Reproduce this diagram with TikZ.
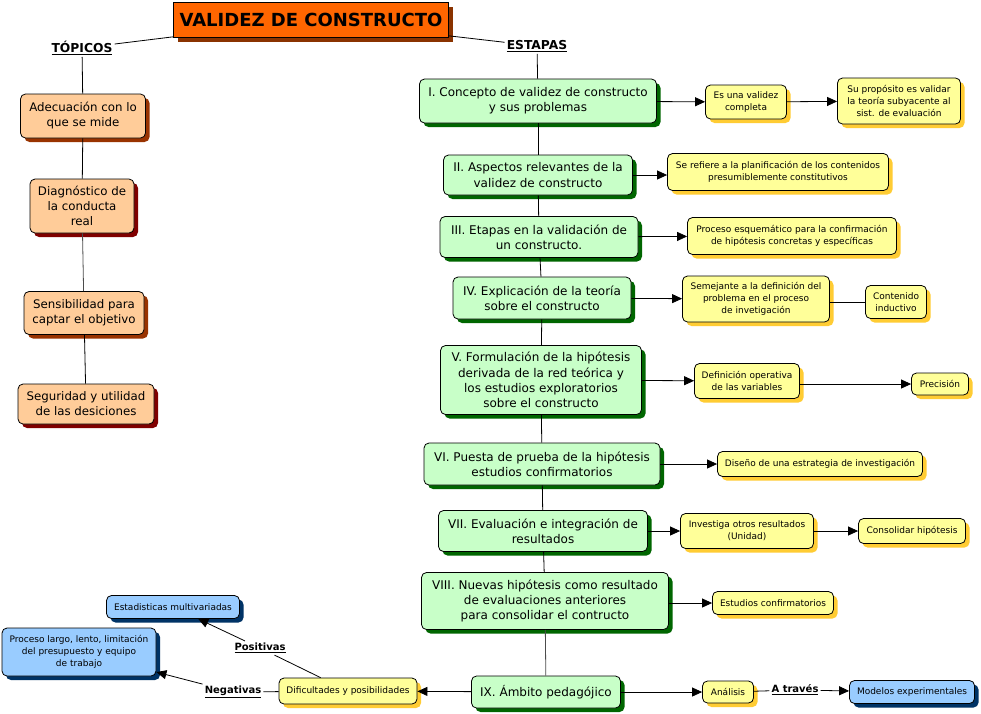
\documentclass[tikz,border=0pt]{standalone}
\usepackage{fontspec}
\setmainfont{DejaVu Sans}
\usetikzlibrary{arrows.meta,shadows}
\definecolor{titlefill}{HTML}{FF6600}
\definecolor{titleshadow}{HTML}{8A3300}
\definecolor{peach}{HTML}{FFCC99}
\definecolor{brownsh}{HTML}{993300}
\definecolor{maroonsh}{HTML}{800000}
\definecolor{greenfill}{HTML}{C8FFC8}
\definecolor{greensh}{HTML}{006600}
\definecolor{yellowfill}{HTML}{FFFF99}
\definecolor{yellowsh}{HTML}{FFCC33}
\definecolor{bluefill}{HTML}{99CCFF}
\definecolor{bluesh}{HTML}{003366}
\tikzset{
  shadowed/.style={drop shadow={shadow xshift=4pt,shadow yshift=-4pt,opacity=1,fill=#1}},
  box/.style={draw, line width=0.8pt, rounded corners=5pt, align=center, inner sep=1pt},
  titlebox/.style={draw, line width=0.8pt, fill=titlefill, shadowed=titleshadow,
    font=\fontsize{18}{21}\selectfont\bfseries, inner sep=1pt},
  topic/.style={box, fill=peach, shadowed=#1, font=\fontsize{11.8}{15}\selectfont},
  stage/.style={box, fill=greenfill, shadowed=greensh, font=\fontsize{12}{15.2}\selectfont},
  note/.style={box, fill=yellowfill, shadowed=yellowsh, font=\fontsize{9}{11.8}\selectfont},
  bluenote/.style={box, fill=bluefill, shadowed=bluesh, font=\fontsize{9}{11.8}\selectfont},
  lbl/.style={font=\fontsize{#1}{13}\selectfont\bfseries, inner sep=2pt},
  conn/.style={line width=0.8pt},
  arr/.style={line width=0.8pt, -{Triangle[length=10pt,width=9pt]}},
}
\begin{document}
\begin{tikzpicture}[x=1pt,y=-1pt]
\useasboundingbox[fill=white] (0,0) rectangle (981,713);

% title and headings
\node[titlebox, minimum width=275pt, minimum height=35pt] (title) at (311,20) {VALIDEZ DE CONSTRUCTO};
\node[lbl=12.3] (topicos) at (82,48) {\underline{TÓPICOS}};
\node[lbl=12.3] (etapas) at (537,46) {\underline{ESTAPAS}};

% left column
\node[topic=brownsh, minimum width=125pt, minimum height=44pt] (t1) at (83,116) {Adecuación con lo\\que se mide};
\node[topic=maroonsh, minimum width=104pt, minimum height=54pt] (t2) at (82,206) {Diagnóstico de\\la conducta\\real};
\node[topic=brownsh, minimum width=120pt, minimum height=43pt] (t3) at (84,313) {Sensibilidad para\\captar el objetivo};
\node[topic=maroonsh, minimum width=136pt, minimum height=40pt] (t4) at (86,404) {Seguridad y utilidad\\de las desiciones};

% stages
\node[stage, minimum width=237pt, minimum height=44pt] (s1) at (538,101) {I. Concepto de validez de constructo\\y sus problemas};
\node[stage, minimum width=189pt, minimum height=40pt] (s2) at (538,175) {II. Aspectos relevantes de la\\validez de constructo};
\node[stage, minimum width=198pt, minimum height=41pt] (s3) at (539,237) {III. Etapas en la validación de\\un constructo.};
\node[stage, minimum width=178pt, minimum height=42pt] (s4) at (542,298) {IV. Explicación de la teoría\\sobre el constructo};
\node[stage, minimum width=201pt, minimum height=69pt] (s5) at (541,380) {V. Formulación de la hipótesis\\derivada de la red teórica y\\los estudios exploratorios\\sobre el constructo};
\node[stage, minimum width=236pt, minimum height=42pt] (s6) at (542,464) {VI. Puesta de prueba de la hipótesis\\estudios confirmatorios};
\node[stage, minimum width=209pt, minimum height=41pt] (s7) at (543,531) {VII. Evaluación e integración de\\resultados};
\node[stage, minimum width=247pt, minimum height=57pt] (s8) at (545,601) {VIII. Nuevas hipótesis como resultado\\de evaluaciones anteriores\\para consolidar el contructo};
\node[stage, minimum width=149pt, minimum height=32pt] (s9) at (546,692) {IX. Ámbito pedagójico};

% notes
\node[note, minimum width=81pt, minimum height=34pt] (n1) at (746,102) {Es una validez\\completa};
\node[note, minimum width=123pt, minimum height=46pt] (n1b) at (899,101) {Su propósito es validar\\la teoría subyacente al\\sist. de evaluación};
\node[note, minimum width=221pt, minimum height=37pt] (n2) at (778,172) {Se refiere a la planificación de los contenidos\\presumiblemente constitutivos};
\node[note, minimum width=209pt, minimum height=37pt] (n3) at (792,236) {Proceso esquemático para la confirmación\\de hipótesis concretas y específicas};
\node[note, minimum width=147pt, minimum height=46pt] (n4) at (756,299) {Semejante a la definición del\\problema en el proceso\\de invetigación};
\node[note, minimum width=61pt, minimum height=33pt] (n4b) at (896,302) {Contenido\\inductivo};
\node[note, minimum width=105pt, minimum height=35pt] (n5) at (747,381) {Definición operativa\\de las variables};
\node[note, minimum width=57pt, minimum height=22pt] (n5b) at (940,384) {Precisión};
\node[note, minimum width=205pt, minimum height=25pt] (n6) at (820,464) {Diseño de una estrategia de investigación};
\node[note, minimum width=133pt, minimum height=35pt] (n7) at (747,531) {Investiga otros resultados\\(Unidad)};
\node[note, minimum width=107pt, minimum height=25pt] (n7b) at (912,531) {Consolidar hipótesis};
\node[note, minimum width=121pt, minimum height=23pt] (n8) at (773,603) {Estudios confirmatorios};
\node[note, minimum width=51pt, minimum height=22pt] (n9) at (728,692) {Análisis};
\node[bluenote, minimum width=125pt, minimum height=23pt] (n9b) at (912,692) {Modelos experimentales};
\node[note, minimum width=138pt, minimum height=26pt] (dif) at (348,691) {Dificultades y posibilidades};
\node[bluenote, minimum width=133pt, minimum height=23pt] (est) at (173,607) {Estadisticas multivariadas};
\node[bluenote, minimum width=154pt, minimum height=48pt] (proc) at (79,652) {Proceso largo, lento, limitación\\del presupuesto y equipo\\de trabajo};

% labels
\node[lbl=10] (pos) at (260,648) {\underline{Positivas}};
\node[lbl=10] (neg) at (233,692) {\underline{Negativas}};
\node[lbl=10] (atr) at (795,690) {\underline{A través}};

% connectors: title
\draw[conn] (title) -- (topicos);
\draw[conn] (title) -- (etapas);
% left column
\draw[conn] (topicos) -- (t1);
\draw[conn] (t1) -- (t2);
\draw[conn, draw=black!70] (t2) -- (t3);
\draw[conn] (t3) -- (t4);
% stage chain
\draw[conn] (etapas) -- (s1);
\draw[conn] (s1) -- (s2);
\draw[conn] (s2) -- (s3);
\draw[conn] (s3) -- (s4);
\draw[conn] (s4) -- (s5);
\draw[conn] (s5) -- (s6);
\draw[conn] (s6) -- (s7);
\draw[conn] (s7) -- (s8);
\draw[conn, draw=black!70] (s8) -- (s9);
% stage notes
\draw[arr] (s1) -- (n1);
\draw[arr] (n1) -- (n1b);
\draw[arr] (s2) -- (s2 -| n2.west);
\draw[arr] (s3) -- (n3);
\draw[arr] (s4) -- (n4);
\draw[conn] (n4.east |- n4b) -- (n4b);
\draw[arr] (s5) -- (n5);
\draw[arr] (n5.east |- n5b) -- (n5b);
\draw[arr] (s6) -- (s6 -| n6.west);
\draw[arr] (s7) -- (n7);
\draw[arr] (n7) -- (n7b);
\draw[arr] (s8.east |- n8) -- (n8);
\draw[arr] (s9) -- (n9);
\draw[conn] (n9) -- (atr);
\draw[arr] (atr) -- (n9b);
\draw[arr] (s9) -- (dif);
\draw[conn] (dif) -- (pos);
\draw[arr] (pos) -- (est);
\draw[conn] (dif) -- (neg);
\draw[arr] (neg) -- (proc);
\end{tikzpicture}
\end{document}
